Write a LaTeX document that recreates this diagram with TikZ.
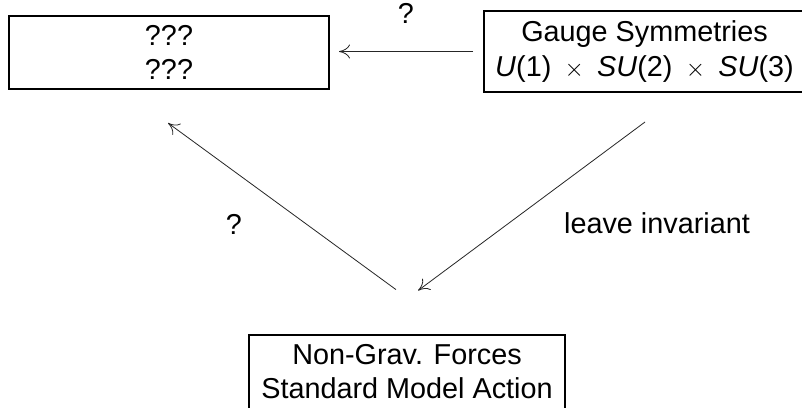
\documentclass[tikz,border=0pt]{standalone}
\usepackage{fontspec}
\setmainfont{Liberation Sans}
\usetikzlibrary{arrows.meta,calc}
\newcommand{\tms}{\hspace{0.46em}$\times$\hspace{0.46em}}
\begin{document}
\begin{tikzpicture}[x=1pt,y=-1pt,
  box/.style={draw=black,line width=2pt,align=center,inner sep=0pt,
    font=\fontsize{28.8}{34.5}\selectfont},
  lbl/.style={anchor=base,inner sep=0pt,font=\fontsize{28.8}{34.5}\selectfont},
  conn/.style={line width=0.8pt,draw=black!85,
    -{Computer Modern Rightarrow[length=11pt,width=14pt]}}]
\useasboundingbox[fill=white] (0,0) rectangle (802,407);
\node[box,minimum width=320pt,minimum height=73pt] (unk) at (169,52.5) {???\\???};
\node[box,minimum width=321pt,minimum height=81pt] (gauge) at (644.5,51.5)
  {Gauge Symmetries\\\textit{U}(1)\tms\textit{SU}(2)\tms\textit{SU}(3)};
\node[box,minimum width=316pt,minimum height=74pt] (sm) at (407,371.6)
  {Non-Grav. Forces\\Standard Model Action};
\coordinate (ltail) at ($(sm.north)+(-11,-44)$);
\coordinate (lhead) at ($(unk.south)+(-1,33)$);
\coordinate (rtail) at ($(gauge.south)+(0.5,29)$);
\coordinate (rhead) at ($(sm.north)+(11,-43)$);
\draw[conn,shorten <=10pt,shorten >=9pt] (gauge.west) -- (gauge.west -| unk.east);
\draw[conn] (ltail) -- (lhead);
\draw[conn] (rtail) -- (rhead);
\node[lbl] (qtop) at (406,23) {?};
\node[lbl] (qleft) at (234,234) {?};
\node[lbl] (inv) at (657,233) {leave invariant};
\end{tikzpicture}
\end{document}
